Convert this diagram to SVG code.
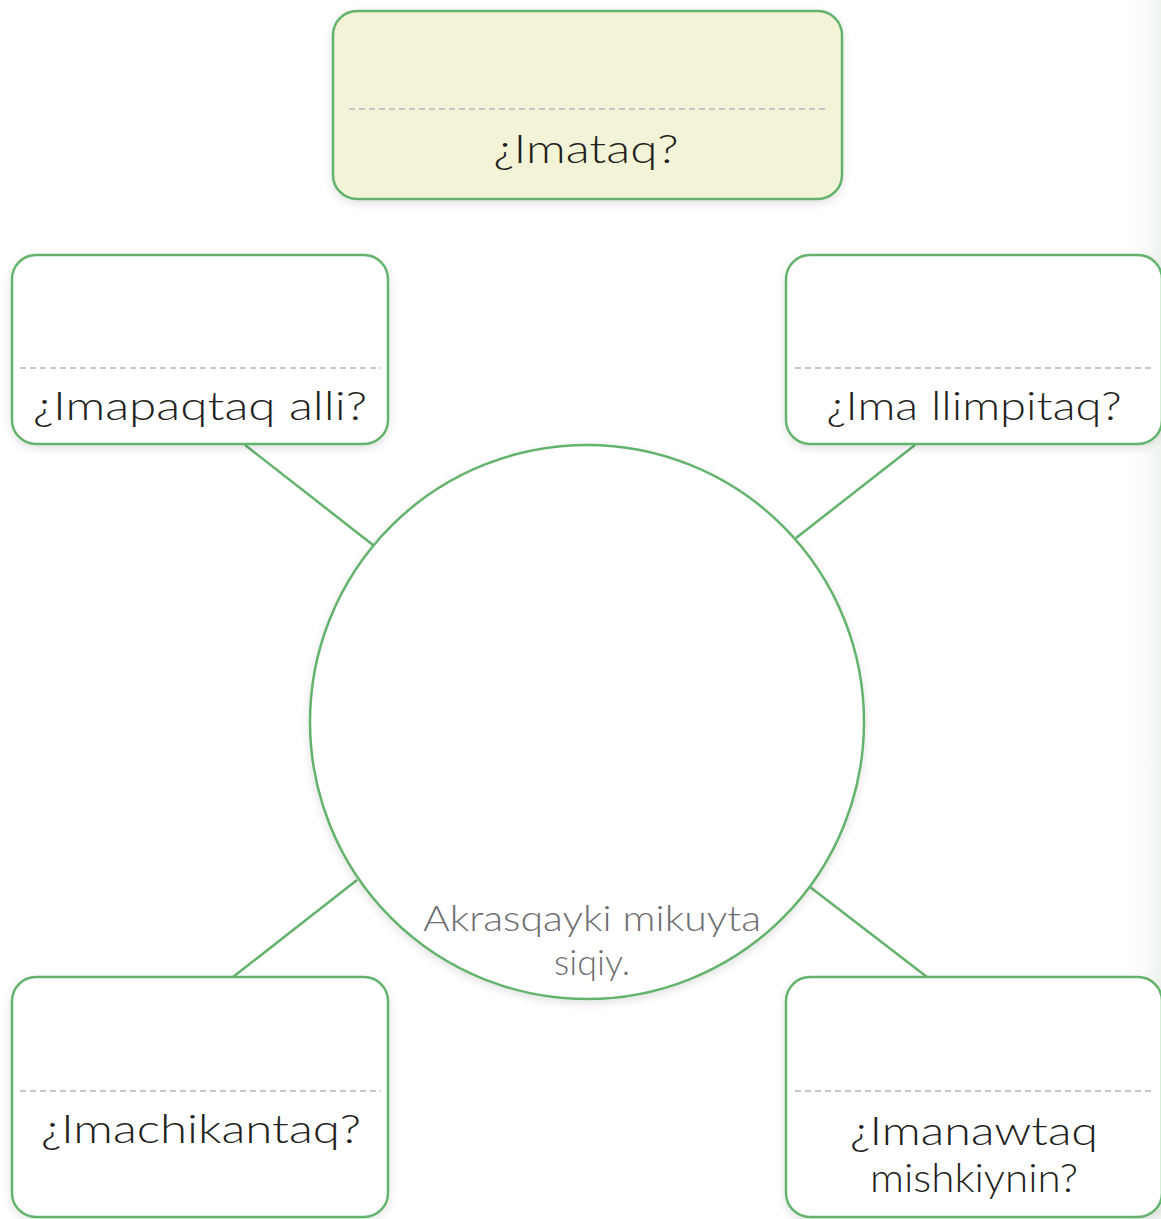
<svg xmlns="http://www.w3.org/2000/svg" width="1161" height="1219" viewBox="0 0 1161 1219">
<defs>
<style>
.box{fill:#ffffff;stroke:#64b36d;stroke-width:2.5;filter:url(#sh)}
.top{fill:#f3f4d7}
.dash{stroke:#c6c6ca;stroke-width:2;stroke-dasharray:6 4;fill:none}
.lbl{font-family:Lato,"Open Sans","Liberation Sans",sans-serif;font-weight:300;font-size:40px;fill:#231f20;text-anchor:middle}
.cl{font-family:Lato,"Open Sans","Liberation Sans",sans-serif;font-weight:300;font-size:36px;fill:#6d6e71;text-anchor:middle}
.con{stroke:#64b36d;stroke-width:2.5;fill:none}
</style>
<filter id="sh" x="-10%" y="-10%" width="120%" height="125%">
<feDropShadow dx="0" dy="3" stdDeviation="4" flood-color="#000000" flood-opacity="0.12"/>
</filter>
<linearGradient id="edge" x1="0" y1="0" x2="1" y2="0">
<stop offset="0" stop-color="#ffffff" stop-opacity="0"/>
<stop offset="1" stop-color="#eef3ee"/>
</linearGradient>
</defs>
<rect x="0" y="0" width="1161" height="1219" fill="#ffffff"/>
<rect x="1120" y="0" width="41" height="1219" fill="url(#edge)"/>
<g id="connectors">
<line class="con" x1="245" y1="445" x2="373" y2="545"/>
<line class="con" x1="915" y1="445" x2="796" y2="538"/>
<line class="con" x1="357" y1="880" x2="233" y2="977"/>
<line class="con" x1="810" y1="887" x2="927" y2="977"/>
</g>
<g id="center">
<circle class="box" cx="587" cy="722" r="277"/>
<text class="cl" x="592" y="931" textLength="338" lengthAdjust="spacingAndGlyphs">Akrasqayki mikuyta</text>
<text class="cl" x="592" y="975" textLength="76" lengthAdjust="spacingAndGlyphs">siqiy.</text>
</g>
<g id="n-top">
<rect class="box top" x="333" y="11" width="509" height="188" rx="24"/>
<line class="dash" x1="349" y1="109" x2="827" y2="109"/>
<text class="lbl" x="586" y="163" textLength="185" lengthAdjust="spacingAndGlyphs">¿Imataq?</text>
</g>
<g id="n-left-top">
<rect class="box" x="12" y="255" width="376" height="189" rx="24"/>
<line class="dash" x1="20" y1="368" x2="381" y2="368"/>
<text class="lbl" x="200" y="420" textLength="334" lengthAdjust="spacingAndGlyphs">¿Imapaqtaq alli?</text>
</g>
<g id="n-right-top">
<rect class="box" x="786" y="255" width="376" height="189" rx="24"/>
<line class="dash" x1="795" y1="368" x2="1155" y2="368"/>
<text class="lbl" x="974" y="420" textLength="295" lengthAdjust="spacingAndGlyphs">¿Ima llimpitaq?</text>
</g>
<g id="n-left-bottom">
<rect class="box" x="12" y="977" width="376" height="240" rx="24"/>
<line class="dash" x1="20" y1="1091" x2="381" y2="1091"/>
<text class="lbl" x="201" y="1143" textLength="320" lengthAdjust="spacingAndGlyphs">¿Imachikantaq?</text>
</g>
<g id="n-right-bottom">
<rect class="box" x="786" y="977" width="376" height="240" rx="24"/>
<line class="dash" x1="795" y1="1091" x2="1155" y2="1091"/>
<text class="lbl" x="974" y="1145" textLength="248" lengthAdjust="spacingAndGlyphs">¿Imanawtaq</text>
<text class="lbl" x="974" y="1192" textLength="208" lengthAdjust="spacingAndGlyphs">mishkiynin?</text>
</g>
</svg>
